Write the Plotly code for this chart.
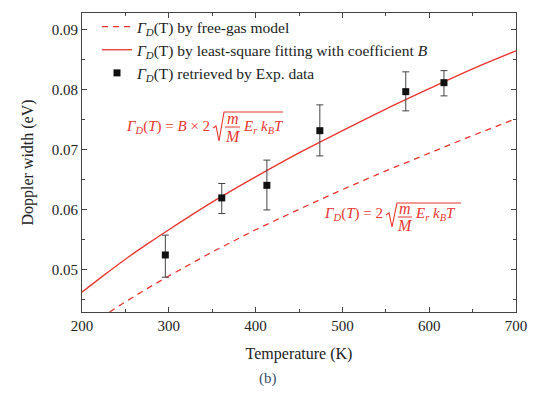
import plotly.graph_objects as go

# ---- data ----
temp_curve = [200, 225, 250, 275, 300, 350, 400, 450, 500, 550, 600, 650, 700]
fit_curve = [0.0463, 0.0491, 0.0518, 0.0543, 0.0567, 0.0613, 0.0655, 0.0695, 0.0732, 0.0768, 0.0802, 0.0835, 0.0865]
freegas_curve = [0.0400, 0.0424, 0.0447, 0.0469, 0.0490, 0.0530, 0.0567, 0.0601, 0.0634, 0.0665, 0.0695, 0.0724, 0.0752]

temp_exp = [296, 361, 413, 474, 573, 617]
width_exp = [0.0525, 0.0620, 0.0641, 0.0732, 0.0797, 0.0812]
err_plus = [0.0033, 0.0024, 0.0042, 0.0043, 0.0033, 0.0020]
err_minus = [0.0037, 0.0026, 0.0041, 0.0042, 0.0032, 0.0022]

x_ticks = [200, 300, 400, 500, 600, 700]
y_ticks = [0.05, 0.06, 0.07, 0.08, 0.09]

RED = "#e8352f"
FONT = "Liberation Serif, Times New Roman, serif"

# plot area in pixels
L, R, T, B = 82, 19, 13, 84
W, H = 535, 396
PW, PH = W - L - R, H - T - B


def px(x):
    return (x - L) / PW


def py(y):
    return (H - B - y) / PH


fig = go.Figure()
fig.add_trace(go.Scatter(
    x=temp_curve, y=freegas_curve, mode="lines",
    line=dict(color=RED, width=1.3, dash="6px,5px"),
    name="<i>Γ</i><sub><i>D</i></sub>(T) by free-gas model"))
fig.add_trace(go.Scatter(
    x=temp_curve, y=fit_curve, mode="lines", line_shape="spline",
    line=dict(color=RED, width=1.3),
    name="<i>Γ</i><sub><i>D</i></sub>(T) by least-square fitting with coefficient <i>B</i>"))
fig.add_trace(go.Scatter(
    x=temp_exp, y=width_exp, mode="markers",
    marker=dict(symbol="square", size=7, color="#111111"),
    error_y=dict(type="data", symmetric=False, array=err_plus, arrayminus=err_minus,
                 color="#444444", thickness=1, width=3.5),
    name="<i>Γ</i><sub><i>D</i></sub>(T) retrieved by Exp. data"))

axis_common = dict(
    showline=True, linecolor="#444444", linewidth=1, mirror="ticks",
    ticks="inside", ticklen=5, tickcolor="#444444", showgrid=False, zeroline=False,
    tickfont=dict(family=FONT, size=15, color="#222222"),
)
fig.update_xaxes(range=[200, 700], tickvals=x_ticks, ticktext=[str(v) for v in x_ticks],
                 minor=dict(ticks="inside", ticklen=3, dtick=50, tickcolor="#444444"),
                 title=dict(text="Temperature (K)", font=dict(family=FONT, size=16, color="#222222"),
                            standoff=14),
                 automargin=False, **axis_common)
fig.update_yaxes(range=[0.0430, 0.0928], tickvals=y_ticks, ticktext=[f"{v:.2f}" for v in y_ticks],
                 minor=dict(ticks="inside", ticklen=3, dtick=0.005, tickcolor="#444444"),
                 title=dict(text="Doppler width (eV)", font=dict(family=FONT, size=16, color="#222222"),
                            standoff=14),
                 automargin=False, **axis_common)

annotations = []
shapes = []


def add_text(text, x, y, anchor="left", size=15, color=RED):
    annotations.append(dict(text=text, x=px(x), y=py(y), xref="paper", yref="paper",
                            xanchor=anchor, yanchor="middle", showarrow=False,
                            font=dict(family=FONT, size=size, color=color)))


def add_formula(prefix, x_sqrt, y_mid, y_top, y_bot, frac_x0, frac_x1, y_bar, y_m, y_M, rest_x, x_end):
    add_text(prefix, x_sqrt - 1, y_mid, anchor="right")
    path = (f"M {px(x_sqrt)},{py(y_mid + 1)} L {px(x_sqrt + 3)},{py(y_mid - 1)} "
            f"L {px(x_sqrt + 6)},{py(y_bot)} L {px(x_sqrt + 11)},{py(y_top)} L {px(x_end)},{py(y_top)}")
    shapes.append(dict(type="path", xref="paper", yref="paper", path=path,
                       line=dict(color=RED, width=1.1)))
    fc = (frac_x0 + frac_x1) / 2
    add_text("<i>m</i>", fc, y_m, anchor="center", size=16)
    add_text("<i>M</i>", fc, y_M, anchor="center", size=16)
    shapes.append(dict(type="line", xref="paper", yref="paper",
                       x0=px(frac_x0), x1=px(frac_x1), y0=py(y_bar), y1=py(y_bar),
                       line=dict(color=RED, width=1)))
    add_text("<i>E<sub>r</sub></i> <i>k<sub>B</sub>T</i>", rest_x, y_mid, anchor="left")


add_formula("<i>Γ<sub>D</sub></i>(<i>T</i>) = <i>B</i> × 2", 213, 127, 112, 141,
            225, 240, 127, 118, 136, 241, 283)
add_formula("<i>Γ<sub>D</sub></i>(<i>T</i>) = 2", 386, 214, 203, 227,
            398, 412, 217, 208, 225, 413, 461)

annotations.append(dict(text="(b)", x=px(268), y=py(378), xref="paper", yref="paper",
                        xanchor="center", yanchor="middle", showarrow=False,
                        font=dict(family=FONT, size=15, color="#3c4d6b")))

fig.update_layout(
    width=W, height=H,
    margin=dict(l=L, r=R, t=T, b=B, autoexpand=False),
    paper_bgcolor="white", plot_bgcolor="white",
    showlegend=True,
    legend=dict(x=px(97), y=py(10), xanchor="left", yanchor="top",
                bgcolor="rgba(0,0,0,0)", borderwidth=0,
                font=dict(family=FONT, size=15.5, color="#222222"),
                tracegroupgap=0, itemwidth=30),
    annotations=annotations,
    shapes=shapes,
)

fig.write_html("out.html", config={"displayModeBar": False},
               post_script="document.body.style.margin='0';")
